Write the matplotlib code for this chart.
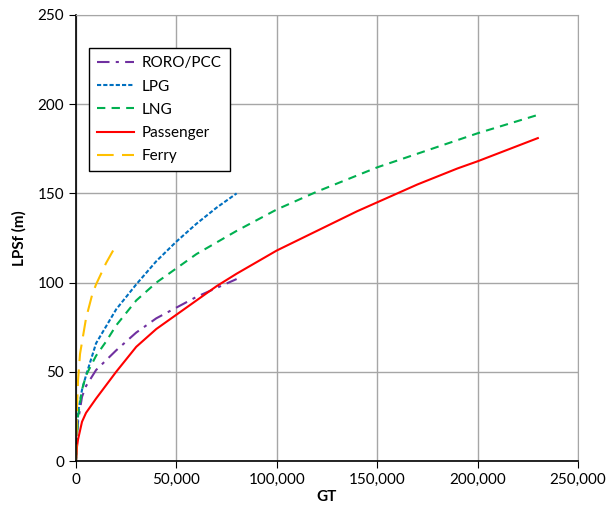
import matplotlib.pyplot as plt
from matplotlib.ticker import FuncFormatter

plt.rcParams['font.family'] = ['Lato', 'DejaVu Sans']

# Data (GT vs LPSf in metres)
roro_gt = [0, 500, 1000, 3000, 5000, 10000, 20000, 30000, 40000, 50000, 60000, 70000, 80000]
roro_l = [0, 15, 22, 36, 42, 51, 62, 72, 80, 86, 92, 97, 102]

lpg_gt = [0, 500, 1000, 3000, 5000, 10000, 20000, 30000, 40000, 50000, 60000, 70000, 80000]
lpg_l = [0, 15, 27, 40, 48, 66, 85, 99, 112, 123, 133, 142, 150]

lng_gt = [0, 500, 1000, 3000, 5000, 10000, 15000, 20000, 30000, 40000, 50000, 60000,
          80000, 100000, 120000, 150000, 200000, 230000]
lng_l = [0, 15, 25, 40, 48, 59, 67, 76, 90, 100, 108, 116, 129, 141, 151, 164.6, 183.7, 194]

pax_gt = [0, 500, 1000, 2000, 3000, 5000, 7500, 10000, 20000, 30000, 40000, 50000, 60000,
          70000, 80000, 100000, 120000, 140000, 150000, 160000, 170000, 190000, 200000, 230000]
pax_l = [0, 8, 12, 17, 22, 27, 31, 35, 50, 64, 74, 82, 90, 98, 105, 118, 129, 140, 145,
         150, 155, 164, 168, 181]

ferry_gt = [0, 500, 1000, 2000, 5000, 8000, 10000, 15000, 20000]
ferry_l = [0, 30, 45, 60, 80, 93, 99, 111, 121]

fig = plt.figure(figsize=(6.06, 5.05), dpi=100)
ax = fig.add_axes([0.1254, 0.0871, 0.8284, 0.8832])

ax.plot(roro_gt, roro_l, color='#7030A0', lw=1.5, dashes=(6, 3, 1.5, 3), label='RORO/PCC')
ax.plot(lpg_gt, lpg_l, color='#0070C0', lw=1.5, dashes=(2, 1), label='LPG')
ax.plot(lng_gt, lng_l, color='#00B050', lw=1.5, dashes=(4, 3), label='LNG')
ax.plot(pax_gt, pax_l, color='#FF0000', lw=1.5, label='Passenger')
ax.plot(ferry_gt, ferry_l, color='#FFC000', lw=1.5, dashes=(8, 4), label='Ferry')

ax.set_xlim(0, 250000)
ax.set_ylim(0, 250)
ax.set_xticks(range(0, 250001, 50000))
ax.set_yticks(range(0, 251, 50))
ax.xaxis.set_major_formatter(FuncFormatter(lambda v, p: f'{int(v):,}'))
ax.grid(True, color='#A6A6A6', lw=1)
ax.set_axisbelow(True)
for s in ['top', 'right']:
    ax.spines[s].set_color('#A6A6A6')
for s in ['left', 'bottom']:
    ax.spines[s].set_color('black')
    ax.spines[s].set_linewidth(1.2)
ax.tick_params(direction='out', length=5, labelsize=11, colors='black')

ax.set_xlabel('GT', fontsize=11, fontweight='bold', labelpad=2)
ax.set_ylabel('LPSf (m)', fontsize=11, fontweight='bold', labelpad=8)

leg = ax.legend(loc='upper left', bbox_to_anchor=(0.026, 0.926), borderaxespad=0,
                fontsize=11, frameon=True, fancybox=False, edgecolor='black',
                framealpha=1, handlelength=2.4, handletextpad=0.5,
                borderpad=0.55, labelspacing=0.6)
leg.get_frame().set_linewidth(1)

fig.savefig('out.png', dpi=100)
